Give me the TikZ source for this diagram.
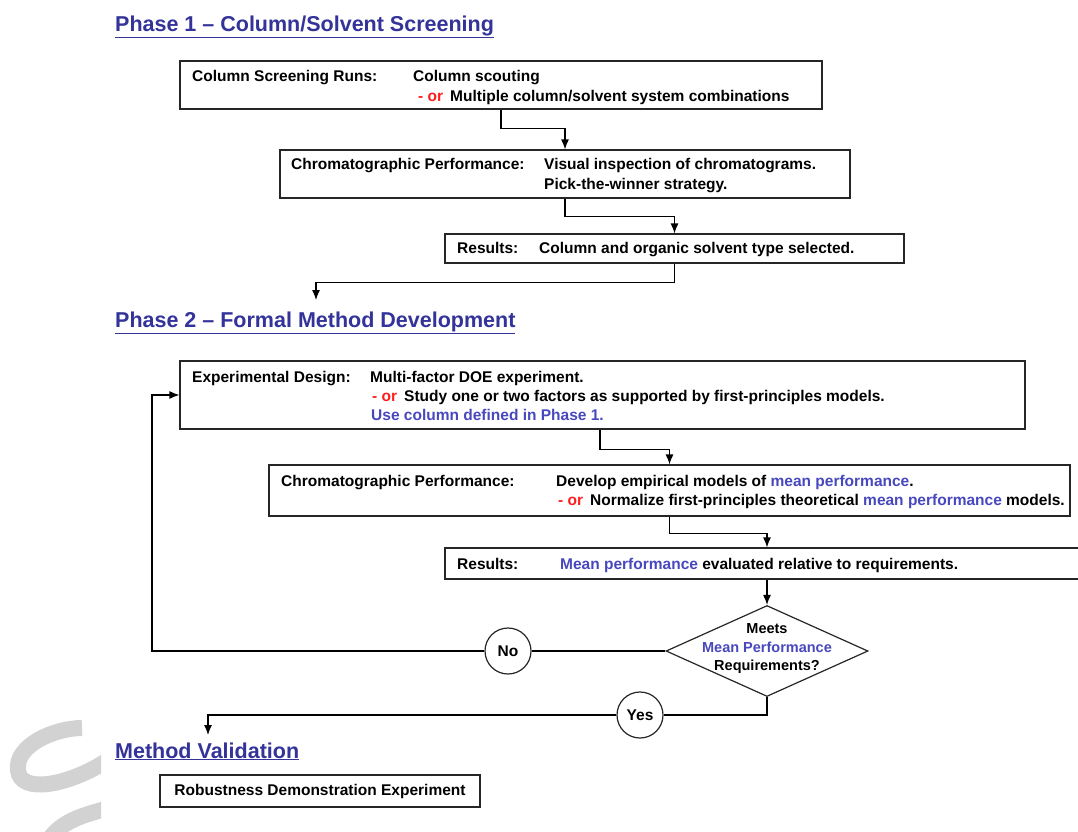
\documentclass[tikz,border=0pt]{standalone}
\usepackage{fontspec}
\setmainfont{Liberation Sans}
\usepackage{tikz}
\usetikzlibrary{shapes,arrows.meta,shapes.geometric}
\usetikzlibrary{positioning}
\definecolor{titblue}{RGB}{51,51,153}
\definecolor{meanblue}{RGB}{72,72,190}
\definecolor{orred}{RGB}{255,30,30}
\newcommand{\orword}{\textcolor{orred}{- or}}
\newcommand{\meanw}[1]{\textcolor{meanblue}{#1}}

\begin{document}
\begin{tikzpicture}[x=1pt,y=-1pt,
		box/.style={draw=black!85,line width=1.2pt,inner sep=0pt},
		txt/.style={anchor=base west,inner sep=0pt,font=\bfseries\fontsize{15.5}{18}\selectfont},
		dtxt/.style={anchor=base,inner sep=0pt,font=\bfseries\fontsize{14.5}{17}\selectfont},
		phase/.style={anchor=base west,inner sep=0pt,text=titblue,font=\bfseries\fontsize{21.5}{25}\selectfont},
		conn/.style={line width=1.2pt,-{Latex[length=10pt,width=8pt]}},
		plain/.style={line width=1.2pt},
		choice/.style={draw=black!85,line width=1.2pt,circle,minimum size=46pt,inner sep=0pt,font=\bfseries\fontsize{15.5}{18}\selectfont}]
		\useasboundingbox[fill=white] (0,0) rectangle (1078,831);
		% watermark
		\begin{scope}
			\clip (0,680) rectangle (101,831);
			\draw[gray!35,line width=16pt] (82,728) .. controls (55,728) and (15,745) .. (18,770)
				.. controls (20,795) and (70,785) .. (108,760);
			\draw[gray!35,line width=16pt] (50,838) .. controls (65,818) and (90,814) .. (108,808);
		\end{scope}
		% phase 1
		\node[phase] (p1) at (115,31) {\underline{Phase 1 – Column/Solvent Screening}};
		\node[box,minimum width=642,minimum height=48] (scr) at (501,85) {};
		\node[txt] (scr1) at (192,81) {Column Screening Runs:};
		\node[txt] (scr2) at (413,81) {Column scouting};
		\node[txt] (scr3) at (418,101) {\orword\hspace{7pt}Multiple column/solvent system combinations};
		\node[box,minimum width=570,minimum height=48] (chr) at (565,174) {};
		\node[txt] (chr1) at (291,169) {Chromatographic Performance:};
		\node[txt] (chr2) at (544,169) {Visual inspection of chromatograms.};
		\node[txt] (chr3) at (544,189) {Pick-the-winner strategy.};
		\node[box,minimum width=459,minimum height=29] (res) at (674.5,248.5) {};
		\node[txt] (res1) at (457,253) {Results:};
		\node[txt] (res2) at (539,253) {Column and organic solvent type selected.};
		\coordinate (p2in) at (316,300);
		% collegamenti fase 1
		\draw[conn] (scr.south) -- ++(0,19) -| (chr.north);
		\draw[conn] (chr.south) -- ++(0,18) -| (res.north);
		\draw[conn] (res.south) -- ++(0,19) -| (p2in);
		% phase 2
		\node[phase] (p2) at (115,327) {\underline{Phase 2 – Formal Method Development}};
		\node[box,minimum width=845,minimum height=68] (exd) at (602.5,395) {};
		\node[txt] (exd1) at (192,382) {Experimental Design:};
		\node[txt] (exd2) at (370,382) {Multi-factor DOE experiment.};
		\node[txt] (exd3) at (372,401) {\orword\hspace{7pt}Study one or two factors as supported by first-principles models.};
		\node[txt] (exd4) at (371,420) {\meanw{Use column defined in Phase 1.}};
		\node[box,minimum width=801,minimum height=51] (cpm) at (669.5,490.5) {};
		\node[txt] (cpm1) at (281,486) {Chromatographic Performance:};
		\node[txt] (cpm2) at (556,486) {Develop empirical models of \meanw{mean performance}.};
		\node[txt] (cpm3) at (558,505) {\orword\hspace{7pt}Normalize first-principles theoretical \meanw{mean performance} models.};
		\node[box,minimum width=645,minimum height=31] (rsm) at (767.5,563.5) {};
		\node[txt] (rsm1) at (457,569) {Results:};
		\node[txt] (rsm2) at (560,569) {\meanw{Mean performance} evaluated relative to requirements.};
		\node[draw=black!85,line width=1.2pt,diamond,minimum width=202,minimum height=91,inner sep=0pt] (meets) at (767,651) {};
		\node[dtxt] (mt1) at (767,633) {Meets};
		\node[dtxt] (mt2) at (767,652) {\meanw{Mean Performance}};
		\node[dtxt] (mt3) at (767,670) {Requirements?};
		\node[choice] (no) at (508,651) {No};
		\node[choice] (yes) at (640,715) {Yes};
		\coordinate (back) at (152,651);
		\coordinate (valin) at (208,735);
		% collegamenti fase 2
		\draw[conn] (exd.south -| 600,0) -- ++(0,20) -| (cpm.north);
		\draw[conn] (cpm.south) -- ++(0,17) -| (rsm.north -| meets.north);
		\draw[conn] (rsm.south -| meets.north) -- (meets.north);
		\draw[plain] (meets.west) -- (no.east);
		\draw[conn] (no.west) -- (back) |- (exd.west);
		\draw[plain] (meets.south) |- (yes.east);
		\draw[conn] (yes.west) -| (valin);
		% validation
		\node[phase] (p3) at (115,758) {\underline{Method Validation}};
		\node[box,minimum width=320,minimum height=32,txt,anchor=center] (rob) at (320,791) {Robustness Demonstration Experiment};
	\end{tikzpicture}
\end{document}
